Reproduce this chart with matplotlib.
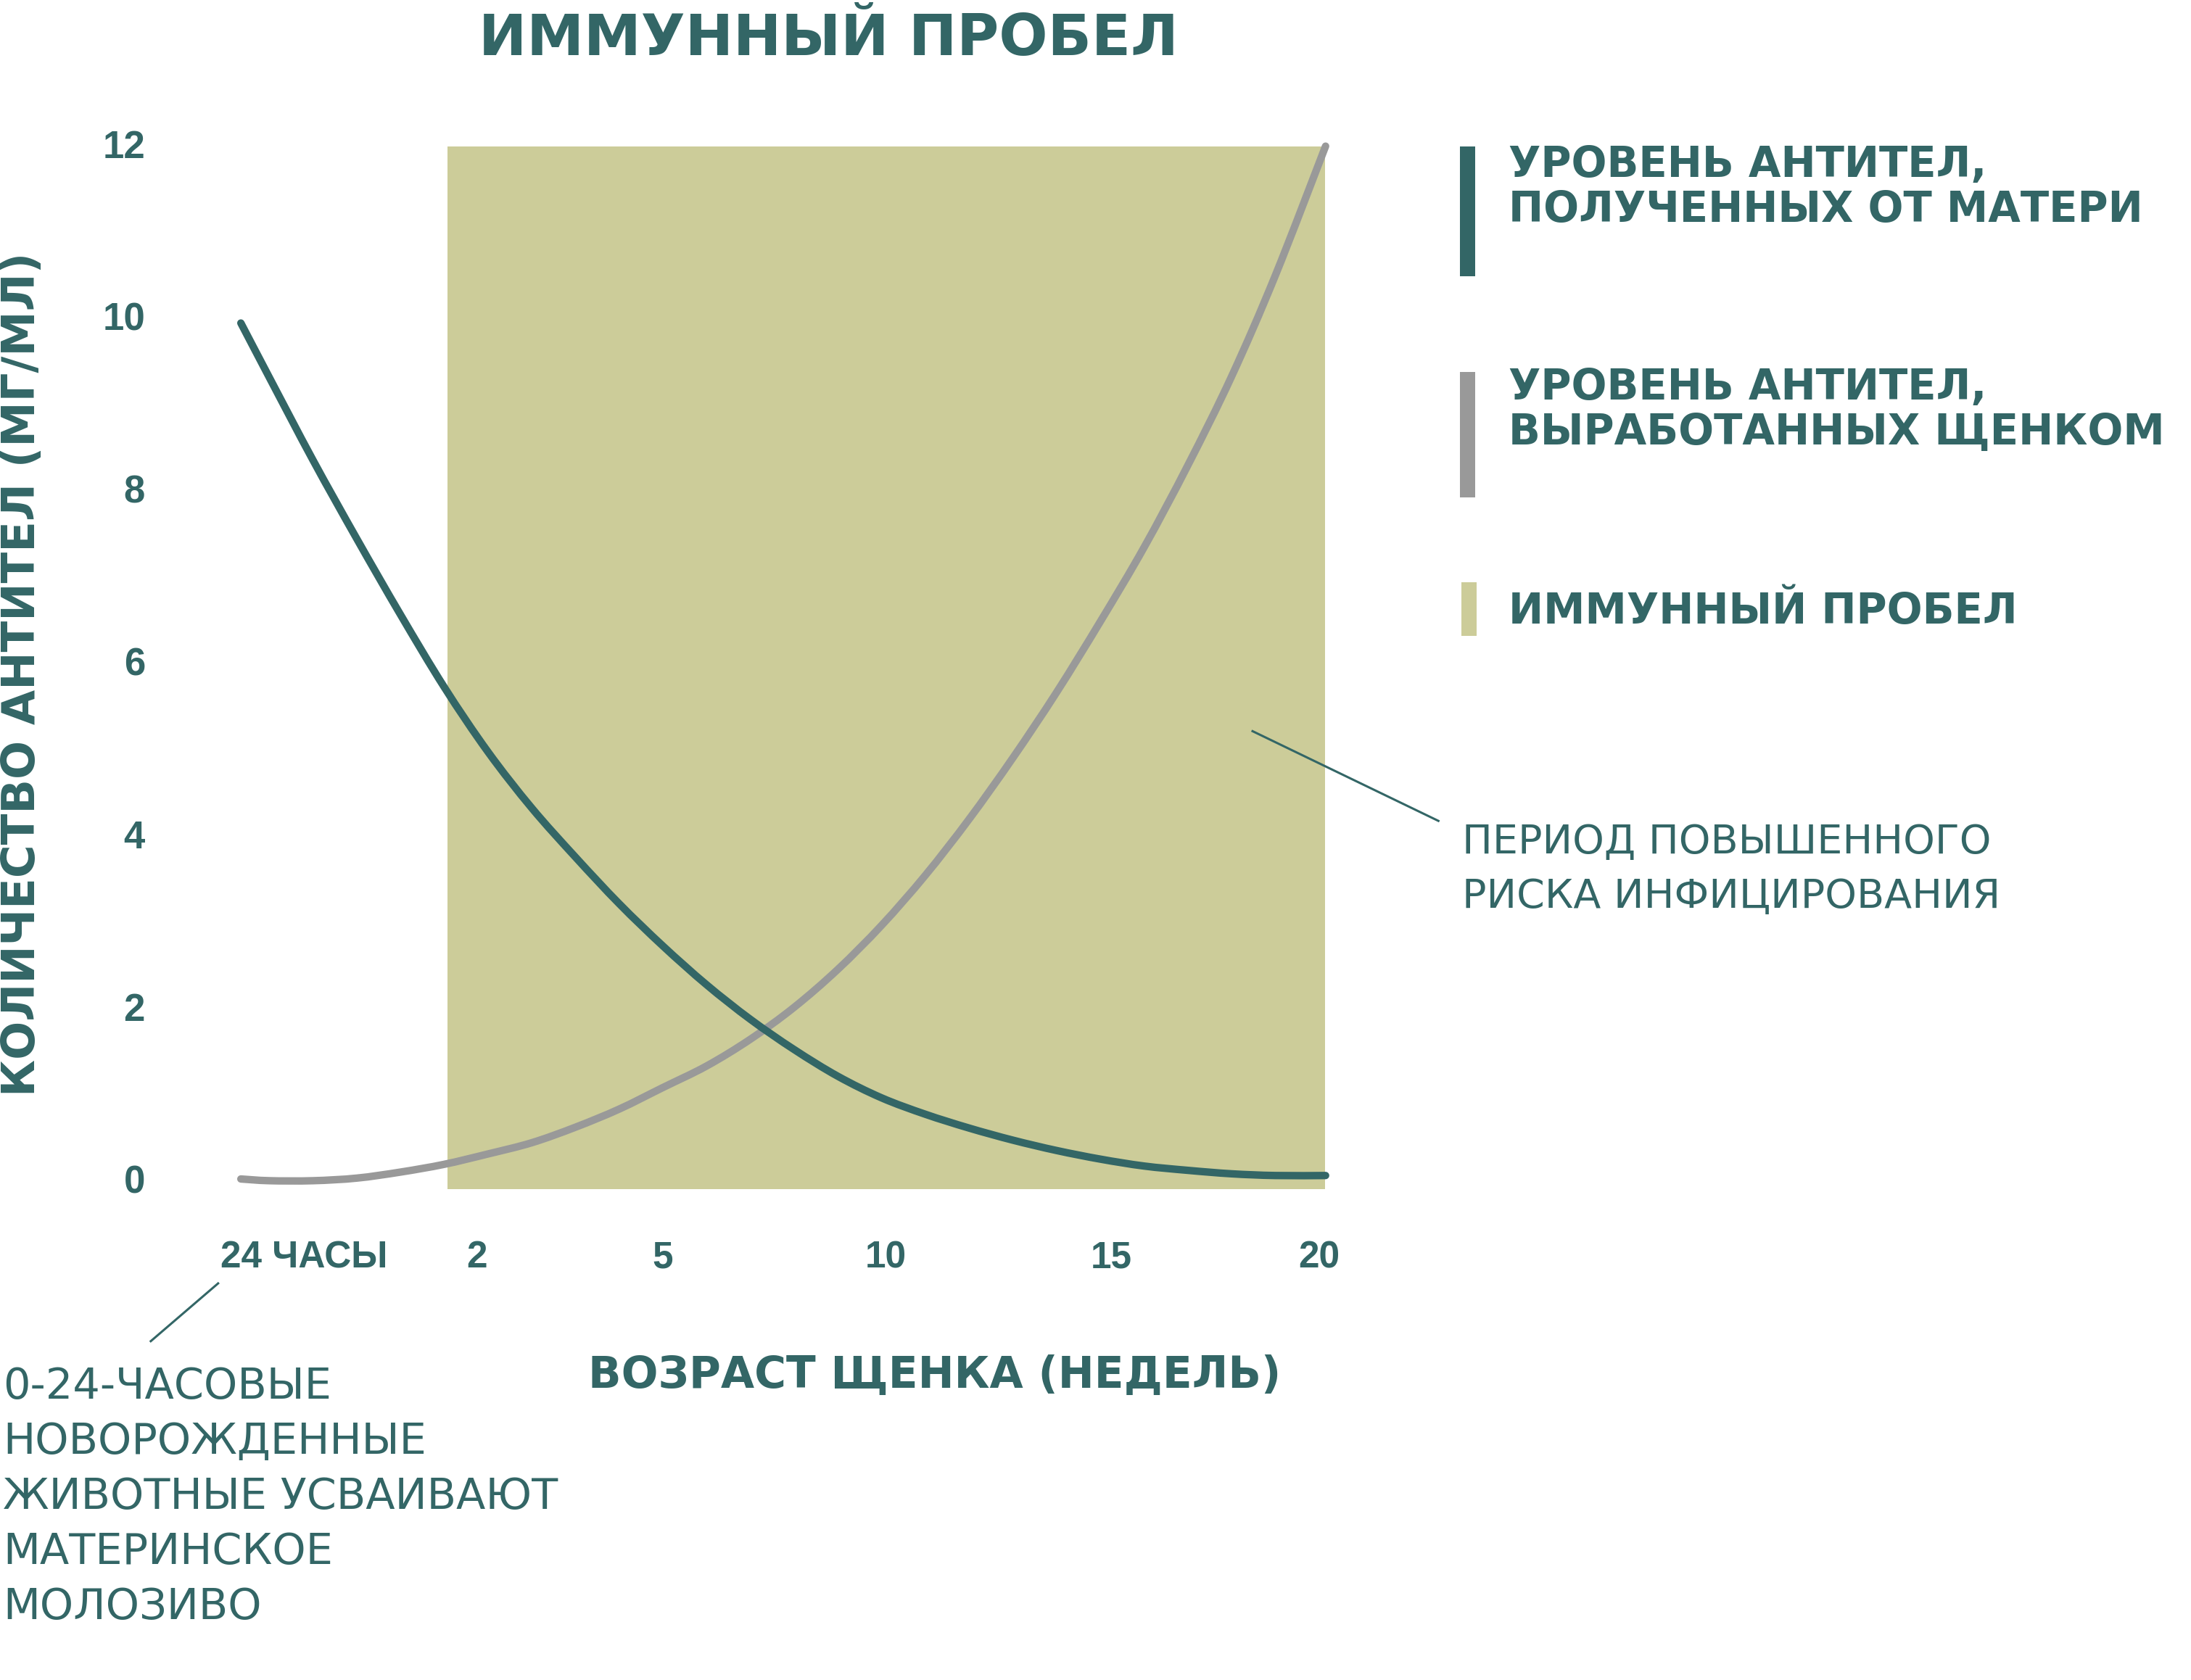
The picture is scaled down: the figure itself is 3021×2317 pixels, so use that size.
import matplotlib
matplotlib.use("Agg")
import matplotlib.pyplot as plt
from matplotlib.patches import Rectangle, PathPatch
from matplotlib.path import Path

W, H = 3021, 2317
TEAL = "#336666"
GREY = "#999999"
KHAKI = "#cccc99"

# position along the age axis (weeks; the first part is the 24-hour zone)
x_pos = [-4.65, -4, -3, -2, -1, 0, 1, 2, 3, 4, 5, 6, 7, 8, 9, 10,
         11, 12, 13, 14, 15, 16, 17, 18, 19, 20.15]
# antibodies from the mother
maternal = [9.92, 9.29, 8.33, 7.42, 6.54, 5.70, 4.95, 4.30, 3.73, 3.19, 2.70,
            2.25, 1.85, 1.50, 1.19, 0.94, 0.75, 0.59, 0.45, 0.33, 0.23, 0.15,
            0.10, 0.06, 0.04, 0.04]
# antibodies produced by the puppy
puppy = [0.0, -0.02, -0.02, 0.01, 0.08, 0.17, 0.29, 0.42, 0.60, 0.81, 1.06,
         1.31, 1.62, 1.99, 2.43, 2.94, 3.52, 4.17, 4.88, 5.64, 6.46, 7.32,
         8.27, 9.30, 10.47, 11.97]

gap_x = [0.07, 20.14]
gap_y = [-0.12, 11.97]

y_ticks = [0, 2, 4, 6, 8, 10, 12]
x_tick_pos = [-3.2, 0.75, 5, 10.1, 15.25, 20]
x_tick_labels = ["24 ЧАСЫ", "2", "5", "10", "15", "20"]

title = "ИММУННЫЙ ПРОБЕЛ"
y_label = "КОЛИЧЕСТВО АНТИТЕЛ (МГ/МЛ)"
x_label = "ВОЗРАСТ ЩЕНКА (НЕДЕЛЬ)"
legend_lines = [["УРОВЕНЬ АНТИТЕЛ,", "ПОЛУЧЕННЫХ ОТ МАТЕРИ"],
                ["УРОВЕНЬ АНТИТЕЛ,", "ВЫРАБОТАННЫХ ЩЕНКОМ"],
                ["ИММУННЫЙ ПРОБЕЛ"]]
risk_note = ["ПЕРИОД ПОВЫШЕННОГО", "РИСКА ИНФИЦИРОВАНИЯ"]
colostrum_note = ["0-24-ЧАСОВЫЕ", "НОВОРОЖДЕННЫЕ", "ЖИВОТНЫЕ УСВАИВАЮТ",
                  "МАТЕРИНСКОЕ", "МОЛОЗИВО"]
# callout leader lines (x_pos, antibody level)
risk_leader = ([18.48, 22.73], [5.19, 4.15])
colostrum_leader = ([-5.17, -6.71], [-1.21, -1.88])


def fx(px):
    return px / W


def fy(py):
    return 1 - py / H


def smooth_path(xs, ys):
    # catmull-rom through the points, drawn as cubic bezier segments
    pts = list(zip(xs, ys))
    verts = [pts[0]]
    codes = [Path.MOVETO]
    n = len(pts)
    for i in range(n - 1):
        p0 = pts[max(i - 1, 0)]
        p1 = pts[i]
        p2 = pts[i + 1]
        p3 = pts[min(i + 2, n - 1)]
        c1 = (p1[0] + (p2[0] - p0[0]) / 6, p1[1] + (p2[1] - p0[1]) / 6)
        c2 = (p2[0] - (p3[0] - p1[0]) / 6, p2[1] - (p3[1] - p1[1]) / 6)
        verts += [c1, c2, p2]
        codes += [Path.CURVE4] * 3
    return Path(verts, codes)


fig = plt.figure(figsize=(W / 100, H / 100), dpi=100)
ax = fig.add_axes([fx(311), fy(1685.5), 1568 / W, 1547 / H])
ax.set_xlim(-5, 21)
ax.set_ylim(-0.5, 12.5)

ax.fill_between(gap_x, gap_y[0], gap_y[1], color=KHAKI, lw=0, zorder=0)
for ys, col, z in [(puppy, GREY, 2), (maternal, TEAL, 3)]:
    patch = PathPatch(smooth_path(x_pos, ys), fill=False, edgecolor=col,
                      lw=7.4, capstyle="round", joinstyle="round", zorder=z)
    ax.add_patch(patch)

ax.plot(*risk_leader, color=TEAL, lw=2.2, clip_on=False, zorder=4)
ax.plot(*colostrum_leader, color=TEAL, lw=2.2, clip_on=False, zorder=4)

for s in ax.spines.values():
    s.set_visible(False)
ax.set_yticks(y_ticks)
ax.set_yticklabels([str(v) for v in y_ticks])
ax.set_xticks(x_tick_pos)
ax.set_xticklabels(x_tick_labels)
ax.tick_params(axis="y", length=0, pad=80, labelsize=38, labelcolor=TEAL)
ax.tick_params(axis="x", length=0, pad=18, labelsize=37, labelcolor=TEAL)
for lab in ax.get_xticklabels() + ax.get_yticklabels():
    lab.set_fontfamily(["Liberation Sans", "DejaVu Sans"])
    lab.set_fontweight("bold")

bold = dict(color=TEAL, fontweight="bold", family=["DejaVu Sans"])
regular = dict(color=TEAL, family=["DejaVu Sans"])

fig.text(fx(1142), fy(76), title, ha="center", va="baseline",
         fontsize=57, **bold)
fig.text(fx(31), fy(930), y_label, rotation=90, ha="center", va="center",
         fontsize=45, **bold)
fig.text(fx(1289), fy(1914), x_label, ha="center", va="baseline",
         fontsize=43, **bold)

# legend
bars = [(2013, 202, 381, TEAL), (2013, 513, 686, GREY), (2015, 803, 877, KHAKI)]
baselines = [244, 551, 860]
for (bx, top, bottom, col), lines, base in zip(bars, legend_lines, baselines):
    fig.add_artist(Rectangle((fx(bx), fy(bottom)), 21 / W, (bottom - top) / H,
                             transform=fig.transFigure, color=col, lw=0))
    for i, line in enumerate(lines):
        fig.text(fx(2080), fy(base + i * 62), line, ha="left", va="baseline",
                 fontsize=41.5, **bold)

for i, line in enumerate(risk_note):
    fig.text(fx(2016), fy(1177 + i * 75), line, ha="left", va="baseline",
             fontsize=40, **regular)

for i, line in enumerate(colostrum_note):
    fig.text(fx(4), fy(1929 + i * 76), line, ha="left", va="baseline",
             fontsize=42.5, **regular)

fig.savefig("out.png", dpi=100, facecolor="white")
